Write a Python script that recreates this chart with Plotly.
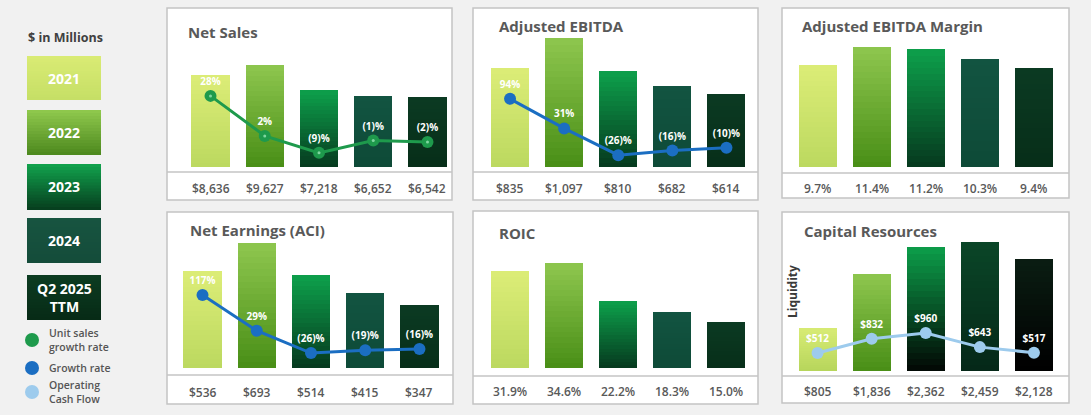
import plotly.graph_objects as go

# ---------------- data ----------------
years = ["2021", "2022", "2023", "2024", "Q2 2025 TTM"]
net_sales = [8636, 9627, 7218, 6652, 6542]
net_sales_unit_growth = [28, 2, -9, -1, -2]
adj_ebitda = [835, 1097, 810, 682, 614]
adj_ebitda_growth = [94, 31, -26, -16, -10]
adj_ebitda_margin = [9.7, 11.4, 11.2, 10.3, 9.4]
net_earnings = [536, 693, 514, 415, 347]
net_earnings_growth = [117, 29, -26, -19, -16]
roic = [31.9, 34.6, 22.2, 18.3, 15.0]
liquidity = [805, 1836, 2362, 2459, 2128]
operating_cash_flow = [512, 832, 960, 643, 517]

W, H = 1091, 415
FONT = "Open Sans"


def px(x):
    return x / W


def py(y):
    return 1 - y / H


def hex2rgb(h):
    h = h.lstrip("#")
    return tuple(int(h[i:i + 2], 16) for i in (0, 2, 4))


def mix(c1, c2, t):
    a, b = hex2rgb(c1), hex2rgb(c2)
    return "rgb(%d,%d,%d)" % tuple(round(a[i] + (b[i] - a[i]) * t) for i in range(3))


# (bottom, top) colours per year
STD_COLORS = [("#bcd960", "#dbec76"), ("#4a8f17", "#8cc54d"), ("#063b1f", "#0d9d4a"),
              ("#0e4a37", "#125441"), ("#072e19", "#0b3a22")]
CAP_COLORS = [("#b7d65c", "#d6ea73"), ("#4a8f17", "#8cc54d"), ("#020a05", "#0c9a48"),
              ("#052818", "#0a4527"), ("#000000", "#0a1c12")]

GREEN_LINE = "#1e9a4c"
BLUE_LINE = "#1b6ec2"
LIGHTBLUE_LINE = "#9dcbed"


def pct_label(v):
    return f"({abs(v)})%" if v < 0 else f"{v}%"


def dollar(v):
    return f"${v:,}"


panels = [
    dict(title="Net Sales", values=net_sales, labels=[dollar(v) for v in net_sales],
         line=net_sales_unit_growth, line_text=[pct_label(v) for v in net_sales_unit_growth],
         line_color=GREEN_LINE, colors=STD_COLORS,
         box=(167, 8, 452, 200), sep=172, xdom=(183.4, 454.6), ydom=(167, 40), yrange=[0, 12000],
         lrange=[-18.2, 64.3], tpos=(186, 32), laby=188, green=True),
    dict(title="Adjusted EBITDA", values=adj_ebitda, labels=[dollar(v) for v in adj_ebitda],
         line=adj_ebitda_growth, line_text=[pct_label(v) for v in adj_ebitda_growth],
         line_color=BLUE_LINE, colors=STD_COLORS,
         box=(473, 8, 758, 200), sep=172, xdom=(483, 753.5), ydom=(167, 30), yrange=[0, 1166],
         lrange=[-51.1, 240.4], tpos=(497, 26), laby=188),
    dict(title="Adjusted EBITDA Margin", values=adj_ebitda_margin,
         labels=[f"{v:.1f}%" for v in adj_ebitda_margin], colors=STD_COLORS,
         box=(782, 8, 1069, 198), sep=173, xdom=(790.5, 1061), ydom=(167, 40), yrange=[0, 12.13],
         tpos=(800, 26), laby=188),
    dict(title="Net Earnings (ACI)", values=net_earnings, labels=[dollar(v) for v in net_earnings],
         line=net_earnings_growth, line_text=[pct_label(v) for v in net_earnings_growth],
         line_color=BLUE_LINE, colors=STD_COLORS,
         box=(167, 212, 453, 404), sep=375, xdom=(175.4, 446.6), ydom=(368, 240), yrange=[0, 715],
         lrange=[-62.8, 252.5], tpos=(188, 230), laby=392),
    dict(title="ROIC", values=roic, labels=[f"{v:.1f}%" for v in roic], colors=STD_COLORS,
         box=(473, 211, 758, 404), sep=376, xdom=(483, 753.5), ydom=(368, 240), yrange=[0, 42.5],
         tpos=(497, 233), laby=391),
    dict(title="Capital Resources", values=liquidity, labels=[dollar(v) for v in liquidity],
         line=operating_cash_flow, line_text=[dollar(v) for v in operating_cash_flow],
         line_color=LIGHTBLUE_LINE, colors=CAP_COLORS,
         box=(782, 212, 1069, 403), sep=376, xdom=(790.5, 1061), ydom=(371, 240), yrange=[0, 2500],
         lrange=[107.6, 3045], tpos=(802, 231), laby=391),
]

fig = go.Figure()
layout = dict(width=W, height=H, margin=dict(l=0, r=0, t=0, b=0),
              paper_bgcolor="#f1f1f1", plot_bgcolor="rgba(0,0,0,0)",
              showlegend=False, barmode="stack", bargap=0.3)
shapes = []
annotations = []

NSEG = 20
xs = list(range(len(years)))

for p, cfg in enumerate(panels, start=1):
    xname = "x" if p == 1 else f"x{p}"
    yname = "y" if p == 1 else f"y{p}"
    ly = p + 6
    lyname = f"y{ly}"
    l, t, r, b = cfg["box"]
    # panel box
    shapes.append(dict(type="rect", xref="paper", yref="paper", x0=px(l), x1=px(r), y0=py(b), y1=py(t),
                       fillcolor="white", line=dict(color="#c4c4c4", width=1.5), layer="below"))
    shapes.append(dict(type="line", xref="paper", yref="paper", x0=px(l), x1=px(r), y0=py(cfg["sep"]),
                       y1=py(cfg["sep"]), line=dict(color="#c4c4c4", width=1.5), layer="below"))

    # gradient bars from stacked segments (outlines in the fill colour hide seams)
    vals = cfg["values"]
    for k in range(NSEG):
        tk = k / (NSEG - 1)
        cols = [mix(cfg["colors"][i][0], cfg["colors"][i][1], tk) for i in range(len(vals))]
        fig.add_trace(go.Bar(x=xs, y=[v / NSEG for v in vals], xaxis=xname, yaxis=yname,
                             marker=dict(color=cols, line=dict(width=1.2, color=cols)), width=0.68,
                             hoverinfo="skip"))

    xkey = "xaxis" if p == 1 else f"xaxis{p}"
    ykey = "yaxis" if p == 1 else f"yaxis{p}"
    layout[xkey] = dict(domain=[px(cfg["xdom"][0]), px(cfg["xdom"][1])], range=[-0.5, 4.5],
                        anchor=yname, visible=False, fixedrange=True)
    layout[ykey] = dict(domain=[py(cfg["ydom"][0]), py(cfg["ydom"][1])], range=cfg["yrange"],
                        anchor=xname, visible=False, fixedrange=True)

    if "line" in cfg:
        layout[f"yaxis{ly}"] = dict(domain=[py(cfg["ydom"][0]), py(cfg["ydom"][1])], range=cfg["lrange"],
                                    anchor=xname, overlaying=yname, visible=False, fixedrange=True)
        fig.add_trace(go.Scatter(x=xs, y=cfg["line"], xaxis=xname, yaxis=lyname,
                                 mode="lines+markers+text", text=cfg["line_text"],
                                 textposition="top center",
                                 textfont=dict(family=FONT, size=10, color="white", weight=700),
                                 line=dict(color=cfg["line_color"], width=3),
                                 marker=dict(size=12, color=cfg["line_color"]),
                                 hoverinfo="skip", cliponaxis=False))
        if cfg.get("green"):
            fig.add_trace(go.Scatter(x=xs, y=cfg["line"], xaxis=xname, yaxis=lyname, mode="markers",
                                     marker=dict(size=3, color="#7fd6a0"), hoverinfo="skip"))

    # title
    annotations.append(dict(text=cfg["title"], xref="paper", yref="paper", x=px(cfg["tpos"][0]),
                            y=py(cfg["tpos"][1]), xanchor="left", yanchor="middle", showarrow=False,
                            font=dict(family=FONT, size=15, color="#595959", weight=700)))
    # values in the bottom band
    for i, lab in enumerate(cfg["labels"]):
        annotations.append(dict(text=lab, xref=xname, yref="paper", x=i, y=py(cfg["laby"]),
                                xanchor="center", yanchor="middle", showarrow=False,
                                font=dict(family=FONT, size=12, color="#595959", weight=600)))

annotations.append(dict(text="Liquidity", xref="paper", yref="paper", x=px(792), y=py(292),
                        textangle=-90, showarrow=False, xanchor="center", yanchor="middle",
                        font=dict(family=FONT, size=12, color="#3a3a3a", weight=700)))

# ---------------- left legend ----------------
annotations.append(dict(text="$ in Millions", xref="paper", yref="paper", x=px(26), y=py(38),
                        xanchor="left", yanchor="middle", showarrow=False,
                        font=dict(family=FONT, size=12.5, color="#404040", weight=700)))

legend_boxes = [
    ("2021", 56, 100, ("#c6df66", "#d9eb74")),
    ("2022", 110, 155, ("#4e8a1f", "#8ec74c")),
    ("2023", 164, 210, ("#07401f", "#11a04c")),
    ("2024", 218, 263, ("#144c3a", "#175440")),
    ("Q2 2025<br>TTM", 275, 320, ("#072b16", "#0c3b21")),
]
NSTRIP = 15
for lab, y0, y1, (cb, ct) in legend_boxes:
    hstep = (y1 - y0) / NSTRIP
    for s in range(NSTRIP):
        ya = y1 - s * hstep  # lower edge (px)
        yb = y1 - (s + 1) * hstep  # upper edge (px)
        ext = 1.5 if s < NSTRIP - 1 else 0
        shapes.append(dict(type="rect", xref="paper", yref="paper", x0=px(27), x1=px(101),
                           y0=py(ya), y1=py(yb - ext), fillcolor=mix(cb, ct, s / (NSTRIP - 1)),
                           line=dict(width=0), layer="below"))
    annotations.append(dict(text=lab, xref="paper", yref="paper", x=px(64), y=py((y0 + y1) / 2),
                            xanchor="center", yanchor="middle", showarrow=False,
                            font=dict(family=FONT, size=14, color="white", weight=700)))

legend_items = [
    (GREEN_LINE, 340, "Unit sales<br>growth rate"),
    (BLUE_LINE, 368, "Growth rate"),
    (LIGHTBLUE_LINE, 392, "Operating<br>Cash Flow"),
]
for col, yc, lab in legend_items:
    shapes.append(dict(type="circle", xref="paper", yref="paper", x0=px(25), x1=px(39),
                       y0=py(yc + 7), y1=py(yc - 7), fillcolor=col, line=dict(width=0)))
    annotations.append(dict(text=lab, xref="paper", yref="paper", x=px(47), y=py(yc),
                            xanchor="left", yanchor="middle", showarrow=False, align="left",
                            font=dict(family=FONT, size=10.5, color="#555555", weight=600)))

layout["shapes"] = shapes
layout["annotations"] = annotations
fig.update_layout(**layout)
fig.write_html("out.html", config={"displayModeBar": False},
               post_script="document.body.style.margin='0';")
